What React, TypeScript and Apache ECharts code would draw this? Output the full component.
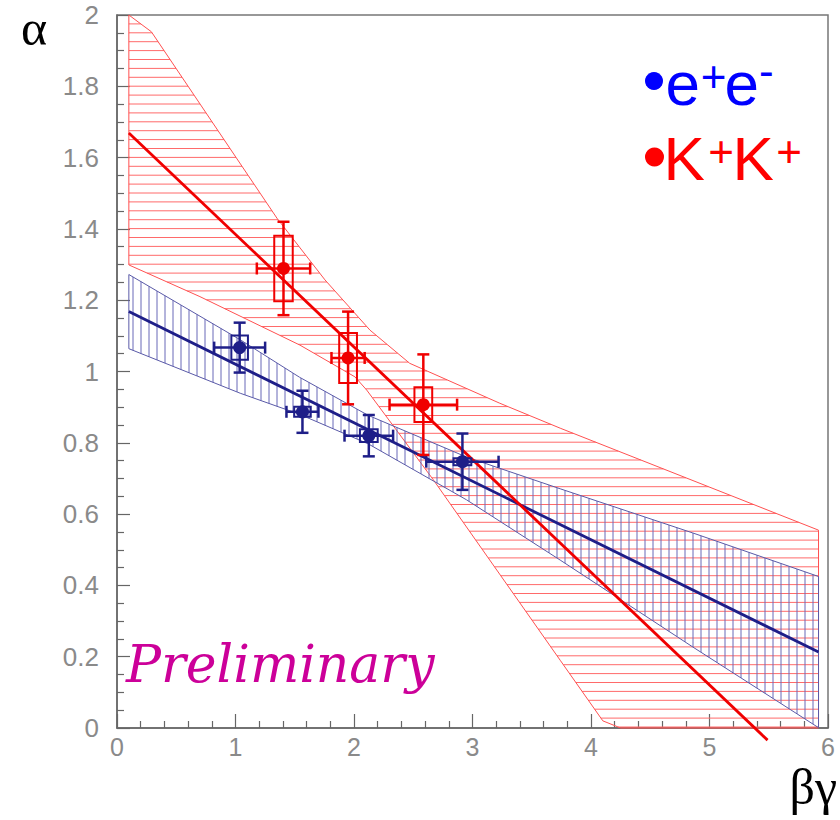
import React, { useEffect, useRef } from "react";
import * as echarts from "echarts";

// ---------- data ----------
const eeX = [1.035, 1.565, 2.125, 2.915];
const eeY = [1.067, 0.887, 0.82, 0.747];
const eeXErr = [0.215, 0.135, 0.205, 0.305];
const eeYErr = [0.07, 0.059, 0.058, 0.079];
const eeSysX = [0.07, 0.07, 0.075, 0.075];
const eeSysY = [0.034, 0.014, 0.018, 0.01];

const kkX = [1.405, 1.95, 2.585];
const kkY = [1.289, 1.038, 0.907];
const kkXErr = [0.225, 0.14, 0.285];
const kkYErr = [0.131, 0.13, 0.141];
const kkSysX = [0.078, 0.075, 0.075];
const kkSysY = [0.092, 0.07, 0.049];

const blueFitX = [0.1, 5.92];
const blueFitY = [1.168, 0.213];
const redFitX = [0.1, 5.49];
const redFitY = [1.669, -0.034];

const blueBandX = [0.1, 1.04, 1.54, 2.12, 2.95, 3.74, 4.86, 5.92];
const blueBandUpper = [1.272, 1.089, 0.984, 0.877, 0.76, 0.671, 0.547, 0.425];
const blueBandLower = [1.064, 0.939, 0.88, 0.797, 0.64, 0.471, 0.227, 0.001];

const redUpperX = [0.1, 0.29, 1.35, 1.755, 2.135, 2.47, 3.23, 3.74, 5.92];
const redUpperY = [2.0, 1.953, 1.43, 1.257, 1.116, 1.023, 0.911, 0.841, 0.555];
const redLowerX = [0.1, 0.7, 1.544, 2.008, 2.107, 2.67, 3.74, 4.1, 4.25, 5.92];
const redLowerY = [1.299, 1.21, 1.074, 0.985, 0.948, 0.696, 0.19, 0.02, 0, 0];

// ---------- helpers ----------
function hatchGroup(pts: number[][], dir: "h" | "v", spacing: number, origin: number, hatchColor: string, edgeColor: string) {
  const children: any[] = [];
  const n = pts.length;
  const idx = dir === "h" ? 1 : 0;
  const oth = 1 - idx;
  let mn = Infinity, mx = -Infinity;
  pts.forEach((p) => { mn = Math.min(mn, p[idx]); mx = Math.max(mx, p[idx]); });
  const start = origin + Math.ceil((mn - origin) / spacing) * spacing;
  for (let s = start; s <= mx; s += spacing) {
    const xs: number[] = [];
    for (let i = 0; i < n; i++) {
      const a = pts[i], b = pts[(i + 1) % n];
      const a1 = a[idx], b1 = b[idx];
      if ((a1 <= s && b1 > s) || (b1 <= s && a1 > s)) {
        const t = (s - a1) / (b1 - a1);
        xs.push(a[oth] + t * (b[oth] - a[oth]));
      }
    }
    xs.sort((p, q) => p - q);
    for (let k = 0; k + 1 < xs.length; k += 2) {
      const shape = dir === "h"
        ? { x1: xs[k], y1: s, x2: xs[k + 1], y2: s }
        : { x1: s, y1: xs[k], x2: s, y2: xs[k + 1] };
      children.push({ type: "line", shape, style: { stroke: hatchColor, lineWidth: 1 } });
    }
  }
  children.push({ type: "polygon", shape: { points: pts }, style: { fill: "none", stroke: edgeColor, lineWidth: 1 } });
  return { type: "group", children };
}

function pointRender(color: string) {
  return (params: any, api: any) => {
    const x = api.value(0), y = api.value(1), ex = api.value(2), ey = api.value(3), bx = api.value(4), by = api.value(5);
    const c = api.coord([x, y]);
    const l = api.coord([x - ex, y])[0], r = api.coord([x + ex, y])[0];
    const t = api.coord([x, y + ey])[1], b = api.coord([x, y - ey])[1];
    const p1 = api.coord([x - bx, y + by]), p2 = api.coord([x + bx, y - by]);
    const cap = 6;
    const st = { stroke: color, lineWidth: 2.5 };
    return {
      type: "group",
      children: [
        { type: "line", shape: { x1: l, y1: c[1], x2: r, y2: c[1] }, style: st },
        { type: "line", shape: { x1: l, y1: c[1] - cap, x2: l, y2: c[1] + cap }, style: st },
        { type: "line", shape: { x1: r, y1: c[1] - cap, x2: r, y2: c[1] + cap }, style: st },
        { type: "line", shape: { x1: c[0], y1: t, x2: c[0], y2: b }, style: st },
        { type: "line", shape: { x1: c[0] - cap, y1: t, x2: c[0] + cap, y2: t }, style: st },
        { type: "line", shape: { x1: c[0] - cap, y1: b, x2: c[0] + cap, y2: b }, style: st },
        { type: "rect", shape: { x: p1[0], y: p1[1], width: p2[0] - p1[0], height: p2[1] - p1[1] }, style: { fill: "none", stroke: color, lineWidth: 2 } },
        { type: "circle", shape: { cx: c[0], cy: c[1], r: 6.5 }, style: { fill: color } },
      ],
    };
  };
}

const RED = "#f00000";
const NAVY = "#1e1e88";

export default function App() {
  const ref = useRef<HTMLDivElement>(null);
  useEffect(() => {
    const chart = echarts.init(ref.current!, null, { renderer: "svg" });

    const eeData = eeX.map((x, i) => [x, eeY[i], eeXErr[i], eeYErr[i], eeSysX[i], eeSysY[i]]);
    const kkData = kkX.map((x, i) => [x, kkY[i], kkXErr[i], kkYErr[i], kkSysX[i], kkSysY[i]]);

    const redPoly: number[][] = [];
    redUpperX.forEach((x, i) => redPoly.push([x, redUpperY[i]]));
    for (let i = redLowerX.length - 1; i >= 0; i--) redPoly.push([redLowerX[i], redLowerY[i]]);
    const bluePoly: number[][] = [];
    blueBandX.forEach((x, i) => bluePoly.push([x, blueBandUpper[i]]));
    for (let i = blueBandX.length - 1; i >= 0; i--) bluePoly.push([blueBandX[i], blueBandLower[i]]);

    const labelStyle = { fontFamily: "Liberation Sans", color: "#8a8a8a" };

    chart.setOption({
      animation: false,
      grid: { left: 117, right: 12, top: 15, bottom: 92, show: true, borderColor: "#777", borderWidth: 1.5, backgroundColor: "transparent" },
      xAxis: {
        type: "value", min: 0, max: 6, interval: 1,
        axisLine: { lineStyle: { color: "#666", width: 1.5 } },
        axisTick: { inside: true, length: 14, lineStyle: { color: "#666", width: 1.2 } },
        minorTick: { show: true, splitNumber: 5, length: 7, lineStyle: { color: "#666", width: 1.2 } },
        splitLine: { show: false },
        axisLabel: { ...labelStyle, fontSize: 25, margin: 6 },
      },
      yAxis: {
        type: "value", min: 0, max: 2, interval: 0.2,
        axisLine: { lineStyle: { color: "#666", width: 1.5 } },
        axisTick: { inside: true, length: 13, lineStyle: { color: "#666", width: 1.2 } },
        minorTick: { show: true, splitNumber: 4, length: 7, lineStyle: { color: "#666", width: 1.2 } },
        splitLine: { show: false },
        axisLabel: { ...labelStyle, fontSize: 26, margin: 18 },
      },
      series: [
        {
          type: "custom", coordinateSystem: "cartesian2d", data: [[0, 0]], silent: true, z: 1,
          renderItem: (params: any, api: any) => {
            const pts = redPoly.map((p) => api.coord(p));
            const top = api.coord([0, 2])[1];
            return hatchGroup(pts, "h", 8.9, top, "#ff6a6a", "#ff5050");
          },
        },
        {
          type: "custom", coordinateSystem: "cartesian2d", data: [[0, 0]], silent: true, z: 2,
          renderItem: (params: any, api: any) => {
            const pts = bluePoly.map((p) => api.coord(p));
            const left = api.coord([0, 0])[0];
            return hatchGroup(pts, "v", 8, left, "#6868b8", "#5a5aa8");
          },
        },
        {
          type: "line", data: blueFitX.map((x, i) => [x, blueFitY[i]]), showSymbol: false, clip: false, z: 3,
          lineStyle: { color: NAVY, width: 2.8 },
        },
        {
          type: "line", data: redFitX.map((x, i) => [x, redFitY[i]]), showSymbol: false, clip: false, z: 3,
          lineStyle: { color: RED, width: 2.8 },
        },
        { type: "custom", coordinateSystem: "cartesian2d", data: eeData, renderItem: pointRender(NAVY), z: 4, encode: { x: 0, y: 1 } },
        { type: "custom", coordinateSystem: "cartesian2d", data: kkData, renderItem: pointRender(RED), z: 4, encode: { x: 0, y: 1 } },
      ],
      graphic: [
        { type: "text", x: 34, y: 28, style: { text: "α", fontFamily: "Liberation Serif", fontSize: 50, lineHeight: 30, fill: "#000", align: "center", verticalAlign: "middle" } },
        { type: "text", x: 837, y: 787, style: { text: "βγ", fontFamily: "Liberation Serif", fontSize: 50, lineHeight: 40, fill: "#000", align: "right", verticalAlign: "middle" } },
        { type: "text", x: 126, y: 664, style: { text: "Preliminary", fontFamily: "DejaVu Serif", fontStyle: "italic", fontSize: 52, lineHeight: 50, fill: "#cc0099", align: "left", verticalAlign: "middle" } },
        { type: "circle", shape: { cx: 654, cy: 81, r: 9 }, style: { fill: "#0000ff" } },
        { type: "text", x: 665.5, y: 83.5, style: { text: "e", fontFamily: "Liberation Sans", fontSize: 62, lineHeight: 46, fill: "#0000ff", align: "left", verticalAlign: "middle" } },
        { type: "text", x: 713.5, y: 76.7, style: { text: "+", fontFamily: "Liberation Sans", fontSize: 44, lineHeight: 30, fill: "#0000ff", align: "center", verticalAlign: "middle" } },
        { type: "text", x: 724.5, y: 83.5, style: { text: "e", fontFamily: "Liberation Sans", fontSize: 62, lineHeight: 46, fill: "#0000ff", align: "left", verticalAlign: "middle" } },
        { type: "text", x: 759, y: 70, style: { text: "-", fontFamily: "Liberation Sans", fontSize: 44, lineHeight: 30, fill: "#0000ff", align: "left", verticalAlign: "middle" } },
        { type: "circle", shape: { cx: 654.5, cy: 157, r: 9.5 }, style: { fill: "#ff0000" } },
        { type: "text", x: 663.5, y: 158.5, style: { text: "K", fontFamily: "Liberation Sans", fontSize: 62, lineHeight: 46, fill: "#ff0000", align: "left", verticalAlign: "middle" } },
        { type: "text", x: 721, y: 151.7, style: { text: "+", fontFamily: "Liberation Sans", fontSize: 44, lineHeight: 30, fill: "#ff0000", align: "center", verticalAlign: "middle" } },
        { type: "text", x: 732.5, y: 158.5, style: { text: "K", fontFamily: "Liberation Sans", fontSize: 62, lineHeight: 46, fill: "#ff0000", align: "left", verticalAlign: "middle" } },
        { type: "text", x: 789, y: 151.7, style: { text: "+", fontFamily: "Liberation Sans", fontSize: 44, lineHeight: 30, fill: "#ff0000", align: "center", verticalAlign: "middle" } },
      ],
    });
    return () => chart.dispose();
  }, []);
  return <div ref={ref} style={{ position: "fixed", left: 0, top: 0, width: 840, height: 820, background: "#fff" }} />;
}
